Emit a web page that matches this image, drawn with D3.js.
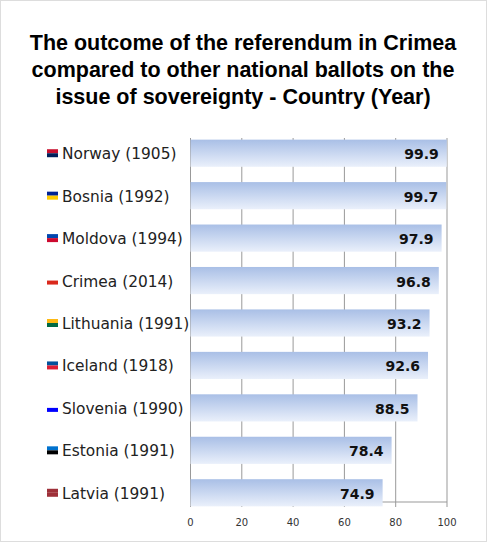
<!DOCTYPE html><html><head><script src="https://cdn.jsdelivr.net/npm/d3@7"></script>
<style>body{margin:0;background:#fff}</style></head><body><svg id="c" width="487" height="542"></svg>
<script>
const categories=["Norway (1905)","Bosnia (1992)","Moldova (1994)","Crimea (2014)","Lithuania (1991)","Iceland (1918)","Slovenia (1990)","Estonia (1991)","Latvia (1991)"];
const values=[99.9,99.7,97.9,96.8,93.2,92.6,88.5,78.4,74.9];
const flagColors=[["#c8102e","#00205b"],["#002395","#fecb00"],["#0046ae","#cc092f"],["#fff","#da291c"],["#fdb913","#006a44"],["#02529c","#dc1e35"],["#fff","#0000ff"],["#0072ce","#000"],["#9e3039","#9e3039"]];
const ticks=[0,20,40,60,80,100];
const svg=d3.select("#c");
svg.append("rect").attr("x",0.5).attr("y",0.5).attr("width",486).attr("height",541).attr("fill","#fff").attr("stroke","#ddd");
const title=["The outcome of the referendum in Crimea","compared to other national ballots on the","issue of sovereignty - Country (Year)"];
svg.append("g").selectAll("text").data(title).join("text").attr("x",243).attr("y",(d,i)=>50+i*27).attr("text-anchor","middle")
 .attr("font-family","Liberation Sans, Arial").attr("font-weight","bold").attr("font-size",21.5).attr("fill","#000").text(d=>d);
const x=d3.scaleLinear().domain([0,100]).range([190.5,447]);
const y=d3.scaleBand().domain(categories).range([132,514]).paddingInner(0.36).paddingOuter(0.18);
const defs=svg.append("defs");
const g=defs.append("linearGradient").attr("id","bg").attr("x1",0).attr("y1",0).attr("x2",0).attr("y2",1);
g.append("stop").attr("offset","0%").attr("stop-color","#a9bfe6");
g.append("stop").attr("offset","100%").attr("stop-color","#eaf0fb");
const bottom=502;
svg.append("g").selectAll("line").data(ticks).join("line").attr("x1",d=>x(d)).attr("x2",d=>x(d)).attr("y1",138).attr("y2",bottom+5).attr("stroke","#999").attr("stroke-width",1);
svg.append("line").attr("x1",x(0)).attr("x2",x(100)).attr("y1",bottom).attr("y2",bottom).attr("stroke","#999");
svg.append("g").selectAll("rect").data(values).join("rect").attr("x",x(0)).attr("y",(d,i)=>y(categories[i])).attr("width",d=>x(d)-x(0)).attr("height",y.bandwidth()).attr("fill","url(#bg)");
svg.append("g").selectAll("text").data(values).join("text").attr("x",d=>x(d)-8).attr("y",(d,i)=>y(categories[i])+y.bandwidth()/2+6).attr("text-anchor","end")
 .attr("font-family","DejaVu Sans, Verdana").attr("font-weight","bold").attr("font-size",14).attr("fill","#111").text(d=>d.toFixed(1));
const lab=svg.append("g").selectAll("g").data(categories).join("g").attr("transform",d=>`translate(0,${y(d)+y.bandwidth()/2})`);
lab.append("rect").attr("x",47).attr("y",-4).attr("width",11).attr("height",4).attr("fill",(d,i)=>flagColors[i][0]);
lab.append("rect").attr("x",47).attr("y",0).attr("width",11).attr("height",4).attr("fill",(d,i)=>flagColors[i][1]);
lab.append("text").attr("x",62).attr("y",6).attr("font-family","DejaVu Sans, Verdana").attr("font-size",15.4).attr("fill","#222").text(d=>d);
svg.append("g").selectAll("text").data(ticks).join("text").attr("x",d=>x(d)).attr("y",526).attr("text-anchor","middle")
 .attr("font-family","DejaVu Sans, Verdana").attr("font-size",10).attr("fill","#333").text(d=>d);
</script></body></html>
